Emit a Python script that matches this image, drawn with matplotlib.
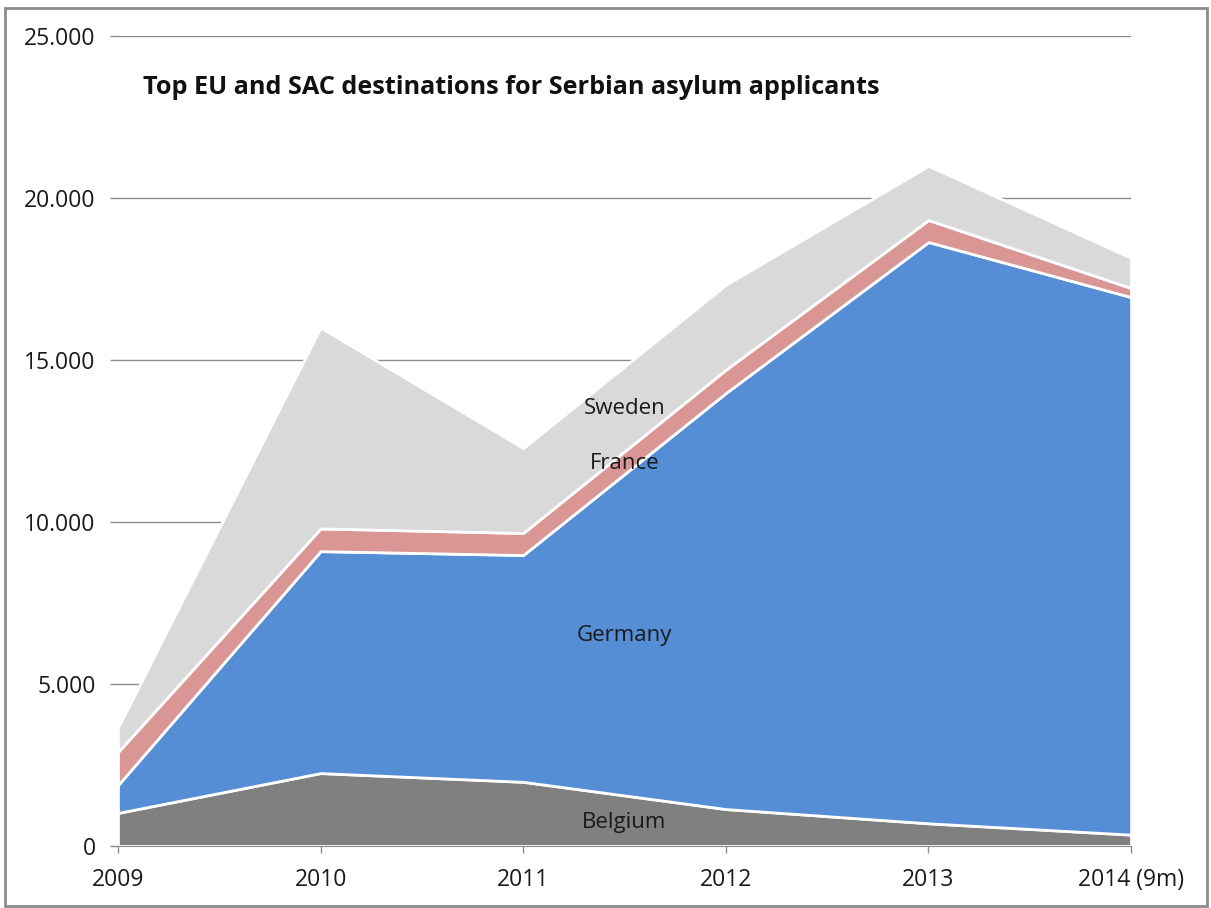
import matplotlib.pyplot as plt
from matplotlib.patches import Rectangle

# -----------------------------
# Data
# -----------------------------
years = ["2009", "2010", "2011", "2012", "2013", "2014 (9m)"]
belgium = [1020, 2250, 1980, 1140, 700, 350]
germany = [860, 6850, 7000, 12840, 17940, 16590]
france = [1020, 700, 680, 720, 680, 280]
sweden = [750, 6200, 2620, 2620, 1670, 930]

series_names = ["Belgium", "Germany", "France", "Sweden"]
colors = ["#808080", "#558ED5", "#D99694", "#D9D9D9"]
y_ticks = [0, 5000, 10000, 15000, 20000, 25000]
y_tick_labels = ["0", "5.000", "10.000", "15.000", "20.000", "25.000"]

plt.rcParams["font.family"] = ["Open Sans", "DejaVu Sans"]

# -----------------------------
# Figure
# -----------------------------
fig = plt.figure(figsize=(12.11, 9.08), dpi=100)
ax = fig.add_axes([0.0974, 0.0683, 0.8366, 0.8921])

x = list(range(len(years)))
ax.stackplot(x, belgium, germany, france, sweden, colors=colors,
             edgecolor="white", linewidth=2, zorder=2)

ax.set_xlim(0, len(years) - 1)
ax.set_ylim(0, 25000)
ax.set_yticks(y_ticks)
ax.set_yticklabels(y_tick_labels)
ax.set_xticks(x)
ax.set_xticklabels(years)

ax.grid(axis="y", color="#8c8c8c", linewidth=1, zorder=0)
ax.set_axisbelow(True)
for side in ["top", "right", "left"]:
    ax.spines[side].set_visible(False)
ax.spines["bottom"].set_color("#8c8c8c")
ax.spines["bottom"].set_zorder(3)

ax.tick_params(axis="y", length=6, color="#8c8c8c", width=1, pad=10,
               labelsize=16.5, labelcolor="#1a1a1a")
ax.tick_params(axis="x", length=5, color="#8c8c8c", width=1, pad=24,
               labelsize=16.5, labelcolor="#1a1a1a")
for lbl in ax.get_xticklabels():
    lbl.set_verticalalignment("baseline")

# series labels inside the areas
label_pos = {"Sweden": (2.5, 13500), "France": (2.5, 11800),
             "Germany": (2.5, 6500), "Belgium": (2.5, 740)}
for name in series_names:
    lx, ly = label_pos[name]
    ax.text(lx, ly, name, ha="center", va="center", fontsize=16,
            color="#1a1a1a", zorder=4)

# title
fig.text(143 / 1211, 1 - 87 / 908,
         "Top EU and SAC destinations for Serbian asylum applicants",
         ha="left", va="center", fontsize=18.2, fontweight="bold", color="#111111")

# outer frame
fig.patches.append(Rectangle((5 / 1211, 2 / 908), 1202 / 1211, 898 / 908,
                             transform=fig.transFigure, fill=False,
                             edgecolor="#8c8c8c", linewidth=2))

plt.savefig("out.png", dpi=100)
plt.close()
